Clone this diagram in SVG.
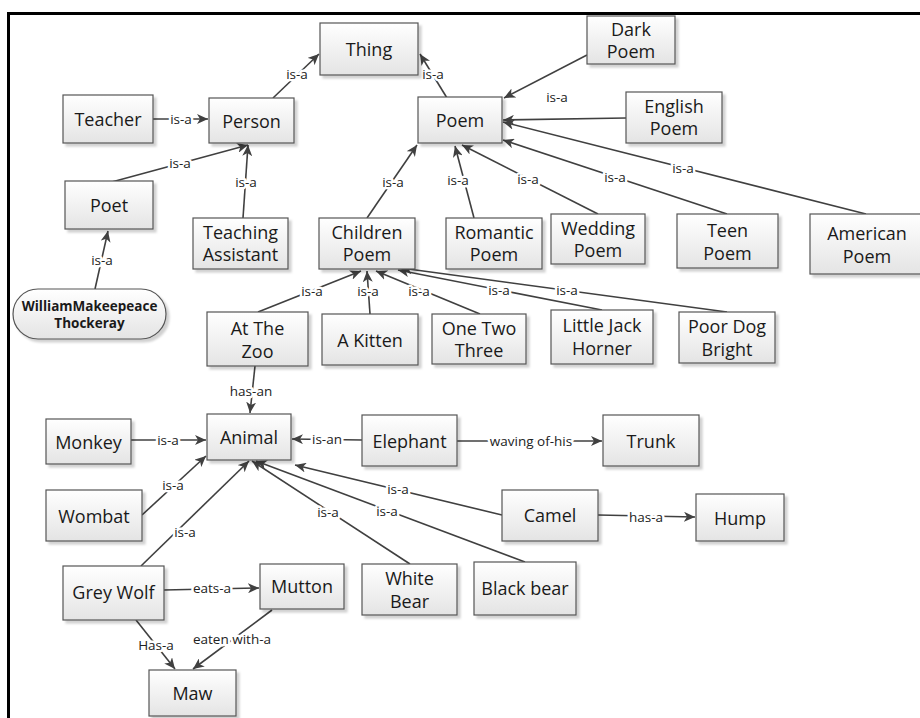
<svg xmlns="http://www.w3.org/2000/svg" width="920" height="718" viewBox="0 0 920 718">
<style>
.n rect{fill:url(#g);stroke:#555;stroke-width:1.2;filter:url(#sh)}
.n text{font-family:"Open Sans","Liberation Sans",sans-serif;font-size:18px;fill:#1a1a1a;text-anchor:middle;dominant-baseline:central}
.n text.b{font-weight:bold;font-size:13.5px}
.e line{stroke:#404040;stroke-width:1.6;marker-end:url(#ah)}
.e text{font-family:"Open Sans","Liberation Sans",sans-serif;font-size:13.5px;fill:#222;text-anchor:middle;dominant-baseline:central;stroke:#fff;stroke-width:5;paint-order:stroke;stroke-linejoin:round}
</style>
<defs>
<linearGradient id="g" x1="0" y1="0" x2="0" y2="1"><stop offset="0" stop-color="#ffffff"/><stop offset="1" stop-color="#e4e4e4"/></linearGradient>
<filter id="sh" x="-10%" y="-10%" width="130%" height="140%"><feDropShadow dx="3" dy="3" stdDeviation="1.2" flood-color="#000" flood-opacity="0.18"/></filter>
<marker id="ah" markerUnits="userSpaceOnUse" markerWidth="12" markerHeight="10" refX="11" refY="5" orient="auto"><path d="M0,0 L11,5 L0,10 L3,5 z" fill="#404040"/></marker>
</defs>
<rect width="920" height="718" fill="#fff"/>
<path d="M7,13.5 H920 M8.5,12 V718" stroke="#000" stroke-width="3" fill="none"/>

<g class="e" id="connectors">
<line x1="273" y1="98" x2="319" y2="54"/><text x="297" y="74">is-a</text>
<line x1="447" y1="98" x2="420" y2="54"/><text x="433" y="74">is-a</text>
<line x1="153" y1="119" x2="208" y2="119"/><text x="181" y="119">is-a</text>
<line x1="108" y1="183" x2="248" y2="145"/><text x="180" y="163">is-a</text>
<line x1="243" y1="218" x2="248" y2="145"/><text x="246" y="182">is-a</text>
<line x1="95" y1="289" x2="108" y2="231"/><text x="102" y="260">is-a</text>
<line x1="367" y1="218" x2="417" y2="145"/><text x="393" y="182">is-a</text>
<line x1="474" y1="218" x2="455" y2="146"/><text x="458" y="180">is-a</text>
<line x1="598" y1="214" x2="462" y2="145"/><text x="528" y="179">is-a</text>
<line x1="727" y1="214" x2="503" y2="140"/><text x="615" y="177">is-a</text>
<line x1="866" y1="214" x2="503" y2="122"/><text x="683" y="168">is-a</text>
<line x1="626" y1="118" x2="503" y2="120"/>
<line x1="587" y1="55" x2="504" y2="98"/><text x="557" y="97">is-a</text>
<line x1="258" y1="312" x2="361" y2="271"/><text x="312" y="291">is-a</text>
<line x1="370" y1="314" x2="367" y2="271"/><text x="368" y="291">is-a</text>
<line x1="480" y1="314" x2="376" y2="271"/><text x="419" y="291">is-a</text>
<line x1="602" y1="310" x2="398" y2="270"/><text x="499" y="290">is-a</text>
<line x1="727" y1="312" x2="401" y2="268"/><text x="567" y="290">is-a</text>
<line x1="255" y1="366" x2="250" y2="413"/><text x="251" y="391">has-an</text>
<line x1="131" y1="440" x2="206" y2="440"/><text x="168" y="440">is-a</text>
<line x1="362" y1="440" x2="292" y2="439"/><text x="327" y="439">is-an</text>
<line x1="457" y1="441" x2="602" y2="441"/><text x="531" y="441">waving of-his</text>
<line x1="142" y1="515" x2="206" y2="456"/><text x="173" y="485">is-a</text>
<line x1="141" y1="566" x2="249" y2="461"/><text x="185" y="532">is-a</text>
<line x1="410" y1="564" x2="252" y2="461"/><text x="328" y="512">is-a</text>
<line x1="525" y1="562" x2="256" y2="461"/><text x="387" y="511">is-a</text>
<line x1="502" y1="515" x2="295" y2="465"/><text x="398" y="489">is-a</text>
<line x1="598" y1="515" x2="695" y2="517"/><text x="646" y="517">has-a</text>
<line x1="164" y1="590" x2="259" y2="588"/><text x="212" y="588">eats-a</text>
<line x1="136" y1="620" x2="175" y2="669"/><text x="156" y="645">Has-a</text>
<line x1="272" y1="610" x2="193" y2="669"/><text x="232" y="639">eaten with-a</text>
</g>

<g class="n" id="thing"><rect x="320" y="23" width="98" height="52"/><text x="369" y="49">Thing</text></g>
<g class="n" id="teacher"><rect x="63" y="95" width="90" height="48"/><text x="108" y="119">Teacher</text></g>
<g class="n" id="person"><rect x="209" y="98" width="85" height="45"/><text x="251.5" y="120.5">Person</text></g>
<g class="n" id="poem"><rect x="418" y="97" width="84" height="46"/><text x="460" y="120">Poem</text></g>
<g class="n" id="darkpoem"><rect x="587" y="16" width="88" height="48"/><text x="631" y="29">Dark</text><text x="631" y="51">Poem</text></g>
<g class="n" id="englishpoem"><rect x="626" y="92" width="96" height="51"/><text x="674" y="106">English</text><text x="674" y="128">Poem</text></g>
<g class="n" id="poet"><rect x="65" y="181" width="88" height="48"/><text x="109" y="205">Poet</text></g>
<g class="n" id="teachingassistant"><rect x="193" y="218" width="95" height="51"/><text x="240.5" y="232">Teaching</text><text x="240.5" y="254">Assistant</text></g>
<g class="n" id="childrenpoem"><rect x="319" y="218" width="96" height="51"/><text x="367" y="232">Children</text><text x="367" y="254">Poem</text></g>
<g class="n" id="romanticpoem"><rect x="446" y="218" width="96" height="51"/><text x="494" y="232">Romantic</text><text x="494" y="254">Poem</text></g>
<g class="n" id="weddingpoem"><rect x="551" y="214" width="94" height="50"/><text x="598" y="228">Wedding</text><text x="598" y="250">Poem</text></g>
<g class="n" id="teenpoem"><rect x="677" y="214" width="101" height="54"/><text x="727.5" y="230">Teen</text><text x="727.5" y="253">Poem</text></g>
<g class="n" id="americanpoem"><rect x="810" y="214" width="114" height="60"/><text x="867" y="233">American</text><text x="867" y="256">Poem</text></g>
<g class="n" id="william"><rect x="13" y="289" width="153" height="50" rx="25" ry="25"/><text class="b" x="89.5" y="306">WilliamMakeepeace</text><text class="b" x="89.5" y="323">Thockeray</text></g>
<g class="n" id="atthezoo"><rect x="207" y="312" width="101" height="54"/><text x="257.5" y="328">At The</text><text x="257.5" y="351">Zoo</text></g>
<g class="n" id="akitten"><rect x="322" y="314" width="96" height="51"/><text x="370" y="339.5">A Kitten</text></g>
<g class="n" id="onetwothree"><rect x="432" y="314" width="94" height="50"/><text x="479" y="328">One Two</text><text x="479" y="350">Three</text></g>
<g class="n" id="littlejackhorner"><rect x="551" y="310" width="102" height="54"/><text x="602" y="325">Little Jack</text><text x="602" y="348">Horner</text></g>
<g class="n" id="poordogbright"><rect x="679" y="312" width="96" height="51"/><text x="727" y="326">Poor Dog</text><text x="727" y="349">Bright</text></g>
<g class="n" id="animal"><rect x="207" y="414" width="84" height="46"/><text x="249" y="437">Animal</text></g>
<g class="n" id="monkey"><rect x="46" y="419" width="85" height="45"/><text x="88.5" y="441.5">Monkey</text></g>
<g class="n" id="elephant"><rect x="362" y="415" width="95" height="51"/><text x="409.5" y="440.5">Elephant</text></g>
<g class="n" id="trunk"><rect x="603" y="415" width="96" height="51"/><text x="651" y="440.5">Trunk</text></g>
<g class="n" id="wombat"><rect x="46" y="490" width="96" height="51"/><text x="94" y="515.5">Wombat</text></g>
<g class="n" id="camel"><rect x="502" y="490" width="96" height="51"/><text x="550" y="515">Camel</text></g>
<g class="n" id="hump"><rect x="696" y="494" width="88" height="47"/><text x="740" y="517.5">Hump</text></g>
<g class="n" id="greywolf"><rect x="63" y="566" width="101" height="54"/><text x="113.5" y="592">Grey Wolf</text></g>
<g class="n" id="mutton"><rect x="260" y="564" width="84" height="45"/><text x="302" y="586">Mutton</text></g>
<g class="n" id="whitebear"><rect x="362" y="564" width="95" height="51"/><text x="409.5" y="578">White</text><text x="409.5" y="601">Bear</text></g>
<g class="n" id="blackbear"><rect x="474" y="562" width="102" height="53"/><text x="525" y="588">Black bear</text></g>
<g class="n" id="maw"><rect x="149" y="670" width="87" height="46"/><text x="192.5" y="693">Maw</text></g>
</svg>
